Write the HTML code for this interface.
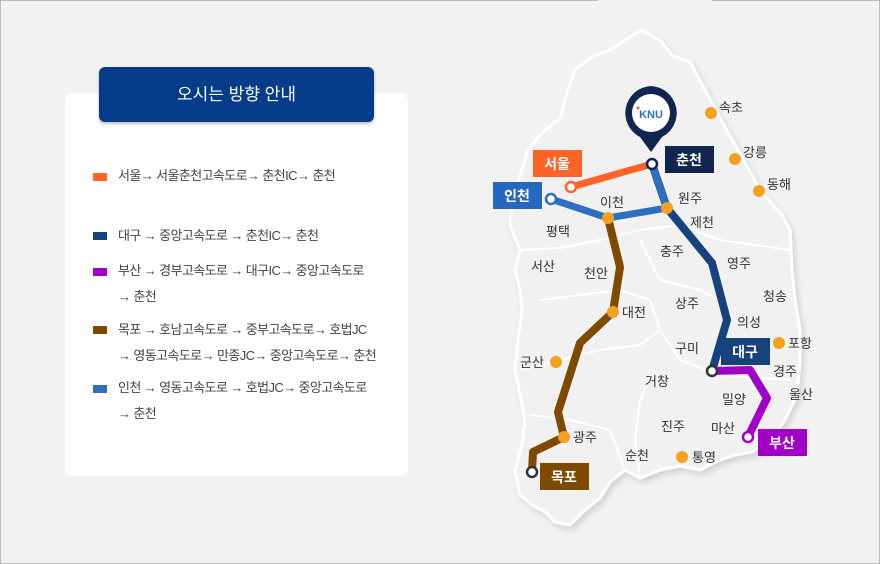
<!DOCTYPE html>
<html><head><meta charset="utf-8"><style>
body{margin:0;width:880px;height:564px;overflow:hidden;background:#f2f2f2;font-family:"Liberation Sans","Noto Sans CJK KR",sans-serif;position:relative}
.frame{position:absolute;left:0;top:0;width:878px;height:562px;border:1px solid #bbb}
.tab{position:absolute;left:598px;top:-1px;width:114px;height:4px;background:#f2f2f2}
.card{position:absolute;left:65px;top:93px;width:343px;height:383px;background:#fff;border-radius:8px}
.head{position:absolute;left:99px;top:67px;width:275px;height:55px;background:#073c8a;border-radius:6px;color:#fff;font-size:17px;line-height:55px;text-align:center;box-shadow:0 2px 3px rgba(0,0,0,.25)}
.it{position:absolute;left:118px;font-size:13px;color:#444;line-height:26px;letter-spacing:-0.6px}
.sq{position:absolute;left:93px;width:14px;height:8px}
</style></head><body>
<div class="frame"></div><div class="tab"></div>
<div class="card"></div>
<div class="head">오시는 방향 안내</div>
<div class="sq" style="top:173px;background:#ff6328"></div><div class="it" style="top:163px">서울→ 서울춘천고속도로→ 춘천IC→ 춘천</div>
<div class="sq" style="top:232px;background:#16427e"></div><div class="it" style="top:223px">대구 → 중앙고속도로 → 춘천IC→ 춘천</div>
<div class="sq" style="top:268px;background:#a100c8"></div><div class="it" style="top:258px">부산 → 경부고속도로 → 대구IC→ 중앙고속도로<br>→ 춘천</div>
<div class="sq" style="top:326px;background:#7d4a00"></div><div class="it" style="top:317px">목포 → 호남고속도로 → 중부고속도로→ 호법JC<br>→ 영동고속도로→ 만종JC→ 중앙고속도로→ 춘천</div>
<div class="sq" style="top:385px;background:#2e6fc0"></div><div class="it" style="top:375px">인천 → 영동고속도로 → 호법JC→ 중앙고속도로<br>→ 춘천</div>
<svg width="880" height="564" style="position:absolute;left:0;top:0" font-family="Liberation Sans, Noto Sans CJK KR, sans-serif">
<defs><filter id="sh"><feDropShadow dx="3" dy="4" stdDeviation="3" flood-color="#000" flood-opacity="0.12"/></filter></defs>
<path filter="url(#sh)" d="M641,30 L660,40 L672,55 L690,62 L705,90 L720,118 L738,150 L760,190 L782,215 L790,230 L792,270 L795,300 L800,330 L800,360 L797,395 L785,420 L770,440 L752,452 L735,455 L715,462 L700,470 L680,466 L660,470 L640,478 L625,470 L610,482 L600,498 L585,510 L570,525 L555,522 L545,512 L532,505 L520,495 L515,470 L522,445 L525,420 L520,395 L515,370 L518,340 L522,310 L520,290 L515,270 L520,250 L510,225 L512,200 L520,175 L528,150 L540,135 L560,118 L568,90 L575,70 L590,58 L610,50 L625,40 Z" fill="#f1f1f1" stroke="#fff" stroke-width="3"/>
<g stroke="#fff" stroke-width="2" fill="none">
<path d="M520,250 L560,248 L600,240 L640,230 L680,225 L720,240 L790,250"/>
<path d="M540,300 L580,295 L620,290 L650,300 L660,330 L680,360 L720,375 L790,380"/>
<path d="M520,370 L560,360 L600,350 L640,345 L660,330"/>
<path d="M530,415 L570,420 L610,430 L625,470"/>
<path d="M655,370 L640,400 L635,440 L640,478"/>
<path d="M640,240 L660,280 L700,290 L720,300"/>
</g>
<polyline points="571,187 652,164" stroke="#ff6328" stroke-width="7" fill="none"/>
<polyline points="652,164 667,208 712,263 727,320 712,371" stroke="#16427e" stroke-width="8" fill="none" stroke-linejoin="round"/>
<polyline points="652,164 667,208" stroke="#2e6fc0" stroke-width="7" fill="none"/>
<polyline points="551,199 608,218 667,208" stroke="#2e6fc0" stroke-width="7" fill="none" stroke-linejoin="round"/>
<polyline points="712,371 750,370 767,398 748,437" stroke="#a100c8" stroke-width="8" fill="none" stroke-linejoin="round"/>
<polyline points="608,218 620,267 613,312 580,343 558,412 564,437 533,452 532,472" stroke="#7d4a00" stroke-width="8" fill="none" stroke-linejoin="round"/>
<g fill="#fff" stroke-width="2.5">
<circle cx="571" cy="187" r="5" stroke="#ff6328"/>
<circle cx="551" cy="199" r="5" stroke="#2e6fc0"/>
<circle cx="652" cy="164" r="5" stroke="#12254f"/>
<circle cx="712" cy="371" r="5" stroke="#333"/>
<circle cx="748" cy="437" r="5" stroke="#a100c8"/>
<circle cx="532" cy="472" r="5" stroke="#333"/>
</g>
<g fill="#f5a020">
<circle cx="711" cy="113" r="6"/><circle cx="735" cy="159" r="6"/><circle cx="759" cy="191" r="6"/>
<circle cx="608" cy="218" r="6"/><circle cx="667" cy="208" r="6"/><circle cx="613" cy="312" r="6"/>
<circle cx="556" cy="362" r="6"/><circle cx="564" cy="437" r="6"/><circle cx="779" cy="343" r="6"/><circle cx="682" cy="457" r="6"/>
</g>
<path d="M651,86 a27,27 0 0 1 11,51 L651,152 L640,137 a27,27 0 0 1 11,-51 Z" fill="#12254f"/>
<circle cx="651" cy="113" r="19" fill="#fff"/>
<text x="651" y="118" font-size="11" font-weight="bold" fill="#2e6fc0" text-anchor="middle">KNU</text>
<circle cx="638" cy="108" r="1.5" fill="#ff6328"/>
<g font-size="14" font-weight="bold" fill="#fff" text-anchor="middle">
<rect x="533" y="150" width="49" height="27" fill="#ff6328"/><text x="557" y="169">서울</text>
<rect x="665" y="146" width="49" height="27" fill="#12254f"/><text x="689" y="165">춘천</text>
<rect x="493" y="182" width="49" height="27" fill="#2469be"/><text x="517" y="201">인천</text>
<rect x="721" y="338" width="49" height="27" fill="#16427e"/><text x="745" y="357">대구</text>
<rect x="758" y="429" width="49" height="27" fill="#a100c8"/><text x="782" y="448">부산</text>
<rect x="540" y="463" width="49" height="27" fill="#7d4a00"/><text x="564" y="482">목포</text>
</g>
<g font-size="13" fill="#333">
<text x="719" y="112">속초</text><text x="743" y="157">강릉</text><text x="767" y="189">동해</text>
<text x="678" y="203">원주</text><text x="600" y="207">이천</text><text x="690" y="227">제천</text>
<text x="546" y="236">평택</text><text x="660" y="256">충주</text><text x="727" y="268">영주</text>
<text x="531" y="271">서산</text><text x="584" y="278">천안</text><text x="763" y="301">청송</text>
<text x="675" y="308">상주</text><text x="622" y="317">대전</text><text x="737" y="327">의성</text>
<text x="675" y="353">구미</text><text x="788" y="348">포항</text><text x="773" y="376">경주</text>
<text x="520" y="367">군산</text><text x="645" y="386">거창</text><text x="789" y="399">울산</text>
<text x="722" y="404">밀양</text><text x="661" y="431">진주</text><text x="711" y="433">마산</text>
<text x="573" y="442">광주</text><text x="625" y="460">순천</text><text x="692" y="462">통영</text>
</g>
</svg>
</body></html>
